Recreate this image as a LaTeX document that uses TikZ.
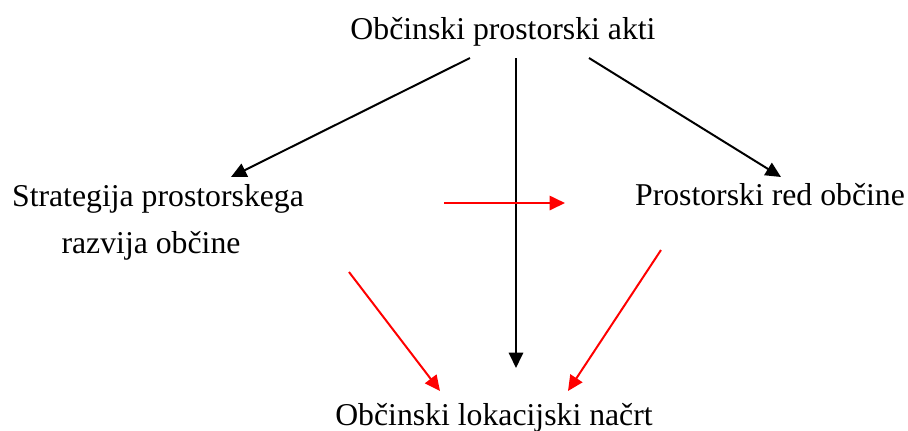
\documentclass[tikz,border=0pt]{standalone}
\usepackage{fontspec}
\setmainfont{Liberation Serif}
\usetikzlibrary{arrows.meta, positioning}
\tikzset{
    auto,
    txt/.style={font=\fontsize{12}{14}\selectfont, inner sep=0pt, anchor=base},% all labels sit on their baseline
    blackarrow/.style={-{Triangle[length=5.8pt, width=5.4pt]}, line width=0.75pt, black},
    redarrow/.style={-{Triangle[length=5.8pt, width=5.4pt]}, line width=0.75pt, red},
}

\begin{document}
\begin{tikzpicture}[x=0.378pt, y=-0.378pt]
    \useasboundingbox (0,0) rectangle (908,430);

    % labels
    \node[txt] (akti) at (503,39) {Občinski prostorski akti};
    \node[txt] (strat) at (158,206) {Strategija prostorskega};
    \node[txt] (stratb) at (151,253) {razvija občine};
    \node[txt] (red) at (770,205) {Prostorski red občine};
    \node[txt] (oln) at (494,425) {Občinski lokacijski načrt};

    % arrow ends
    \coordinate (aktiL) at (470,58);
    \coordinate (aktiM) at (516,58);
    \coordinate (aktiR) at (589,58);
    \coordinate (stratT) at (231,177);
    \coordinate (redT) at (781,177);
    \coordinate (stratE) at (444,203);
    \coordinate (redW) at (565,203);
    \coordinate (stratS) at (349,272);
    \coordinate (redS) at (661,250);
    \coordinate (olnL) at (440,391);
    \coordinate (olnM) at (516,368);
    \coordinate (olnR) at (568,391);

    \draw[blackarrow] (aktiL) -- (stratT);
    \draw[blackarrow] (aktiM) -- (olnM);
    \draw[blackarrow] (aktiR) -- (redT);

    \draw[redarrow] (stratE) -- (redW);
    \draw[redarrow] (stratS) -- (olnL);
    \draw[redarrow] (redS) -- (olnR);
\end{tikzpicture}
\end{document}
